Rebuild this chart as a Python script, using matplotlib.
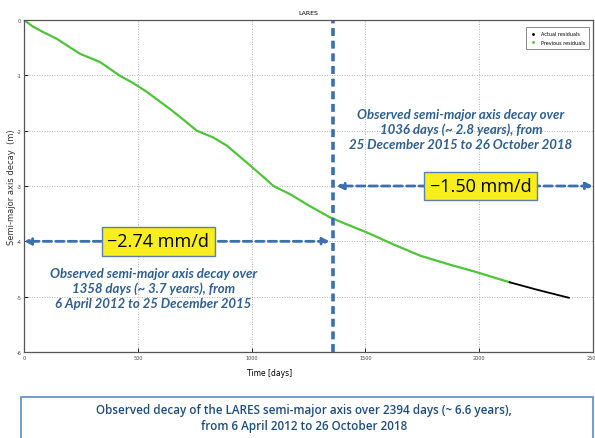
import matplotlib
matplotlib.use("Agg")
import matplotlib.pyplot as plt
from matplotlib.patches import Rectangle

# ---- data ----
prev_days = [0, 40, 85, 144, 200, 246, 334, 380, 422, 480, 540, 642, 700, 759, 830, 891,
             994, 1050, 1096, 1170, 1250, 1346, 1434, 1507, 1620, 1741, 1870, 1991, 2070, 2134]
prev_decay = [0.0, -0.12, -0.22, -0.34, -0.49, -0.61, -0.76, -0.89, -1.01, -1.14, -1.30,
              -1.61, -1.80, -2.00, -2.12, -2.27, -2.63, -2.83, -3.00, -3.15, -3.35,
              -3.57, -3.72, -3.84, -4.05, -4.26, -4.42, -4.56, -4.66, -4.74]
act_days = [2134, 2250, 2394]
act_decay = [-4.74, -4.87, -5.02]

x_ticks = [0, 500, 1000, 1500, 2000, 2500]
y_ticks = [0, -1, -2, -3, -4, -5, -6]

split_day = 1358
rate1_label = "\u22122.74 mm/d"
rate2_label = "\u22121.50 mm/d"
rate1_level = -4
rate2_level = -3
rate1_x = 590
rate2_x = 2005
text1 = "Observed semi-major axis decay over\n1358 days (~ 3.7 years), from\n6 April 2012 to 25 December 2015"
text2 = "Observed semi-major axis decay over\n1036 days (~ 2.8 years), from\n25 December 2015 to 26 October 2018"
caption = "Observed decay of the LARES semi-major axis over 2394 days (~ 6.6 years),\nfrom 6 April 2012 to 26 October 2018"

W, H = 595, 439
fig = plt.figure(figsize=(W / 100, H / 100), dpi=100)
ax = fig.add_axes([24 / W, 1 - 353 / H, (593 - 24) / W, (353 - 21) / H])

green = "#4fc43a"
blue = "#3b6fae"
txtblue = "#2f5f8e"

ax.plot(prev_days, prev_decay, color=green, lw=1.6)
ax.plot(act_days, act_decay, color="black", lw=1.3)
# legend handles
ax.plot([], [], ls="none", marker=".", ms=2, color="black", label="Actual residuals")
ax.plot([], [], ls="none", marker=".", ms=2, color=green, label="Previous residuals")
leg = ax.legend(loc="upper right", fontsize=3.5, frameon=True,
                fancybox=False, edgecolor="#555555", handlelength=1.5,
                borderpad=0.8, labelspacing=0.8, bbox_to_anchor=(0.997, 0.985))
leg.get_frame().set_linewidth(0.6)

ax.set_xlim(0, 2500)
ax.set_ylim(-6, 0)
ax.set_xticks(x_ticks)
ax.set_yticks(y_ticks)
ax.set_xticklabels([str(t) for t in x_ticks], fontsize=3.5, color="#444444")
ax.set_yticklabels([str(t) for t in y_ticks], fontsize=3.5, color="#444444")
ax.tick_params(length=3, width=0.6, pad=2, direction="in")
ax.grid(True, ls=(0, (1, 2)), color="#9a9a9a", lw=0.6)
for s in ax.spines.values():
    s.set_color("#555555")
    s.set_linewidth(0.9)

ax.set_title("LARES", fontsize=4.5, pad=4)
fig.text(270 / W, 1 - 373 / H, "Time [days]", fontsize=5.5, ha="center", va="center")
fig.text(12 / W, 1 - 187 / H, "Semi-major axis decay  (m)", fontsize=6,
         rotation=90, ha="center", va="center", color="#333333")

# vertical split line
ax.axvline(split_day, color=blue, lw=2.6, ls=(0, (2.2, 1.3)))

# arrows
ax.annotate("", xy=(0, rate1_level), xytext=(split_day - 15, rate1_level),
            arrowprops=dict(arrowstyle="<|-|>", color=blue, lw=2.0, ls=(0, (3, 1.5)),
                            mutation_scale=10, shrinkA=0, shrinkB=0))
ax.annotate("", xy=(split_day + 15, rate2_level), xytext=(2500, rate2_level),
            arrowprops=dict(arrowstyle="<|-|>", color=blue, lw=2.0, ls=(0, (3, 1.5)),
                            mutation_scale=10, shrinkA=0, shrinkB=0))

box = dict(boxstyle="square,pad=0.3", fc="#f7ee1c", ec="#5a7fb0", lw=1.0)
ax.text(rate1_x, rate1_level, rate1_label, fontsize=13, ha="center", va="center",
        bbox=box, family="Open Sans")
ax.text(rate2_x, rate2_level, rate2_label, fontsize=13, ha="center", va="center",
        bbox=box, family="Open Sans")

ax.text(0.227, 0.193, text1, transform=ax.transAxes, fontsize=9.5, ha="center",
        va="center", color=txtblue, style="italic", fontweight="bold",
        family="Lato", linespacing=1.3)
ax.text(0.768, 0.672, text2, transform=ax.transAxes, fontsize=9.5, ha="center",
        va="center", color=txtblue, style="italic", fontweight="bold",
        family="Lato", linespacing=1.3)

# caption box
fig.patches.append(Rectangle((21 / W, -0.01), (593 - 21) / W, 1 - 398 / H + 0.01,
                             transform=fig.transFigure, fill=False,
                             ec="#5b8cc4", lw=1.2))
fig.text(304 / W, 1 - 418.5 / H, caption, fontsize=8.4, ha="center", va="center",
         color="#1f4d7a", fontweight="semibold", family="Open Sans", linespacing=1.35)

fig.savefig("out.png", dpi=100)
